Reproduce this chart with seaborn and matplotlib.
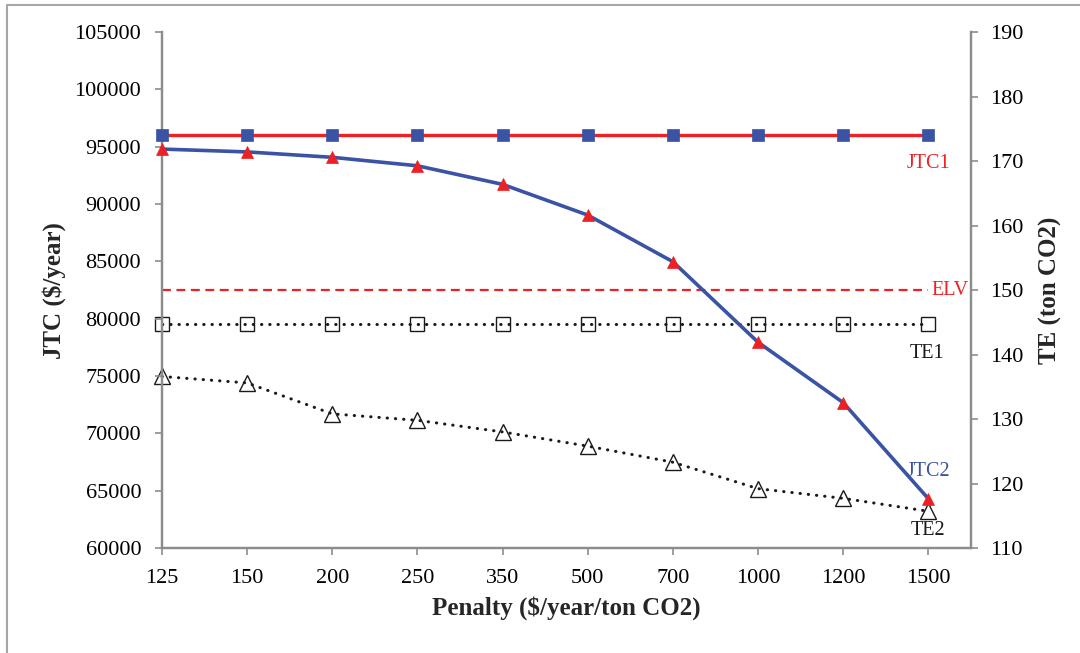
import matplotlib
matplotlib.use("Agg")
import matplotlib.pyplot as plt
from matplotlib.lines import Line2D
import numpy as np
import pandas as pd
import seaborn as sns

# Penalty levels (categorical x axis)
penalty = ["125", "150", "200", "250", "350", "500", "700", "1000", "1200", "1500"]

# Joint total cost ($/year) - left axis
jtc1 = [96000, 96000, 96000, 96000, 96000, 96000, 96000, 96000, 96000, 96000]
jtc2 = [94800, 94550, 94080, 93340, 91720, 89040, 84970, 77950, 72680, 64300]

# Total emissions (ton CO2) - right axis
te1 = [144.8, 144.8, 144.8, 144.8, 144.8, 144.8, 144.8, 144.8, 144.8, 144.8]
te2 = [136.6, 135.6, 130.8, 129.8, 128.0, 125.8, 123.3, 119.2, 117.7, 115.7]
elv = [150, 150, 150, 150, 150, 150, 150, 150, 150, 150]

RED = "#ED2024"
BLUE = "#3A53A4"
SPINE = "#8C8C8C"

sns.set_style("white")
plt.rcParams["font.family"] = ["Liberation Serif", "DejaVu Serif"]
plt.rcParams["mathtext.default"] = "regular"

pos = np.arange(len(penalty))
df = pd.DataFrame({"pos": pos, "jtc1": jtc1, "jtc2": jtc2,
                   "te1": te1, "te2": te2, "elv": elv})

fig = plt.figure(figsize=(10.8, 6.53), dpi=100)
ax = fig.add_axes([0.15, 0.1608, 0.749, 0.790])
ax2 = ax.twinx()

# Right-axis series (emissions)
sns.lineplot(data=df, x="pos", y="elv", ax=ax2, color=RED, lw=1.6,
             linestyle=(0, (4, 2.5)), zorder=2)
sns.lineplot(data=df, x="pos", y="te1", ax=ax2, color="#1a1a1a", lw=2.2,
             linestyle=(0, (0.1, 2.6)), dash_capstyle="round",
             marker="s", markersize=10, markerfacecolor="none",
             markeredgecolor="#1a1a1a", markeredgewidth=1.0, zorder=2,
             clip_on=False)
sns.lineplot(data=df, x="pos", y="te2", ax=ax2, color="#1a1a1a", lw=2.2,
             linestyle=(0, (0.1, 2.6)), dash_capstyle="round",
             marker="^", markersize=11, markerfacecolor="none",
             markeredgecolor="#1a1a1a", markeredgewidth=1.0, zorder=2,
             clip_on=False)

# Left-axis series (costs)
ax.set_zorder(ax2.get_zorder() + 1)
ax.patch.set_visible(False)
sns.lineplot(data=df, x="pos", y="jtc1", ax=ax, color=RED, lw=2.4,
             marker="s", markersize=8, markerfacecolor=BLUE,
             markeredgecolor=BLUE, markeredgewidth=0.5, zorder=3,
             clip_on=False)
sns.lineplot(data=df, x="pos", y="jtc2", ax=ax, color=BLUE, lw=2.6,
             marker="^", markersize=8, markerfacecolor=RED,
             markeredgecolor=RED, markeredgewidth=0.5, zorder=3,
             clip_on=False)

# Axis ranges and ticks
ax.set_xlim(0, len(penalty) - 0.5)
ax.set_ylim(60000, 105000)
ax.set_yticks(np.arange(60000, 105001, 5000))
ax2.set_ylim(110, 190)
ax2.set_yticks(np.arange(110, 191, 10))
ax.set_xticks(pos)
ax.set_xticklabels(penalty)

tick_fs = 16
for a in (ax, ax2):
    a.tick_params(axis="both", labelsize=tick_fs, colors=SPINE, labelcolor="black",
                  length=5, width=1.2, direction="out")
    for s in a.spines.values():
        s.set_color(SPINE)
        s.set_linewidth(1.6)
    a.spines["top"].set_visible(False)
ax.tick_params(axis="y", left=True, pad=10)
ax.tick_params(axis="x", bottom=True, pad=10)
ax2.tick_params(axis="y", right=True, pad=9)
ax.grid(False)
ax2.grid(False)

ax.set_xlabel("Penalty (\\$/year/ton CO2)", fontsize=18, fontweight="bold", labelpad=6)
ax.set_ylabel("JTC (\\$/year)", fontsize=18, fontweight="bold", labelpad=6)
ax2.set_ylabel("TE (ton CO2)", fontsize=18, fontweight="bold", labelpad=11)

# Series labels near the last point
last = len(penalty) - 1
lab_fs = 14.5
ax.annotate("JTC1", (last, jtc1[-1]), xytext=(0, -20), textcoords="offset points",
            ha="center", va="center", color=RED, fontsize=lab_fs)
ax.annotate("JTC2", (last, jtc2[-1]), xytext=(0, 19.5), textcoords="offset points",
            ha="center", va="center", color=BLUE, fontsize=lab_fs)
ax2.annotate("ELV", (last, elv[-1]), xytext=(2, -0.5), textcoords="offset points",
             ha="left", va="center", color=RED, fontsize=lab_fs)
ax2.annotate("TE1", (last, te1[-1]), xytext=(-1, -21.5), textcoords="offset points",
             ha="center", va="center", color="#1a1a1a", fontsize=lab_fs)
ax2.annotate("TE2", (last, te2[-1]), xytext=(0, -13.7), textcoords="offset points",
             ha="center", va="center", color="#1a1a1a", fontsize=lab_fs)

# Outer frame lines (top and left edges)
fig.add_artist(Line2D([7 / 1080, 1.0], [1 - 5 / 653, 1 - 5 / 653],
                      transform=fig.transFigure, color="#A6A6A6", lw=1.5))
fig.add_artist(Line2D([7 / 1080, 7 / 1080], [0.0, 1 - 5 / 653],
                      transform=fig.transFigure, color="#A6A6A6", lw=1.5))

fig.savefig("out.png", dpi=100)
